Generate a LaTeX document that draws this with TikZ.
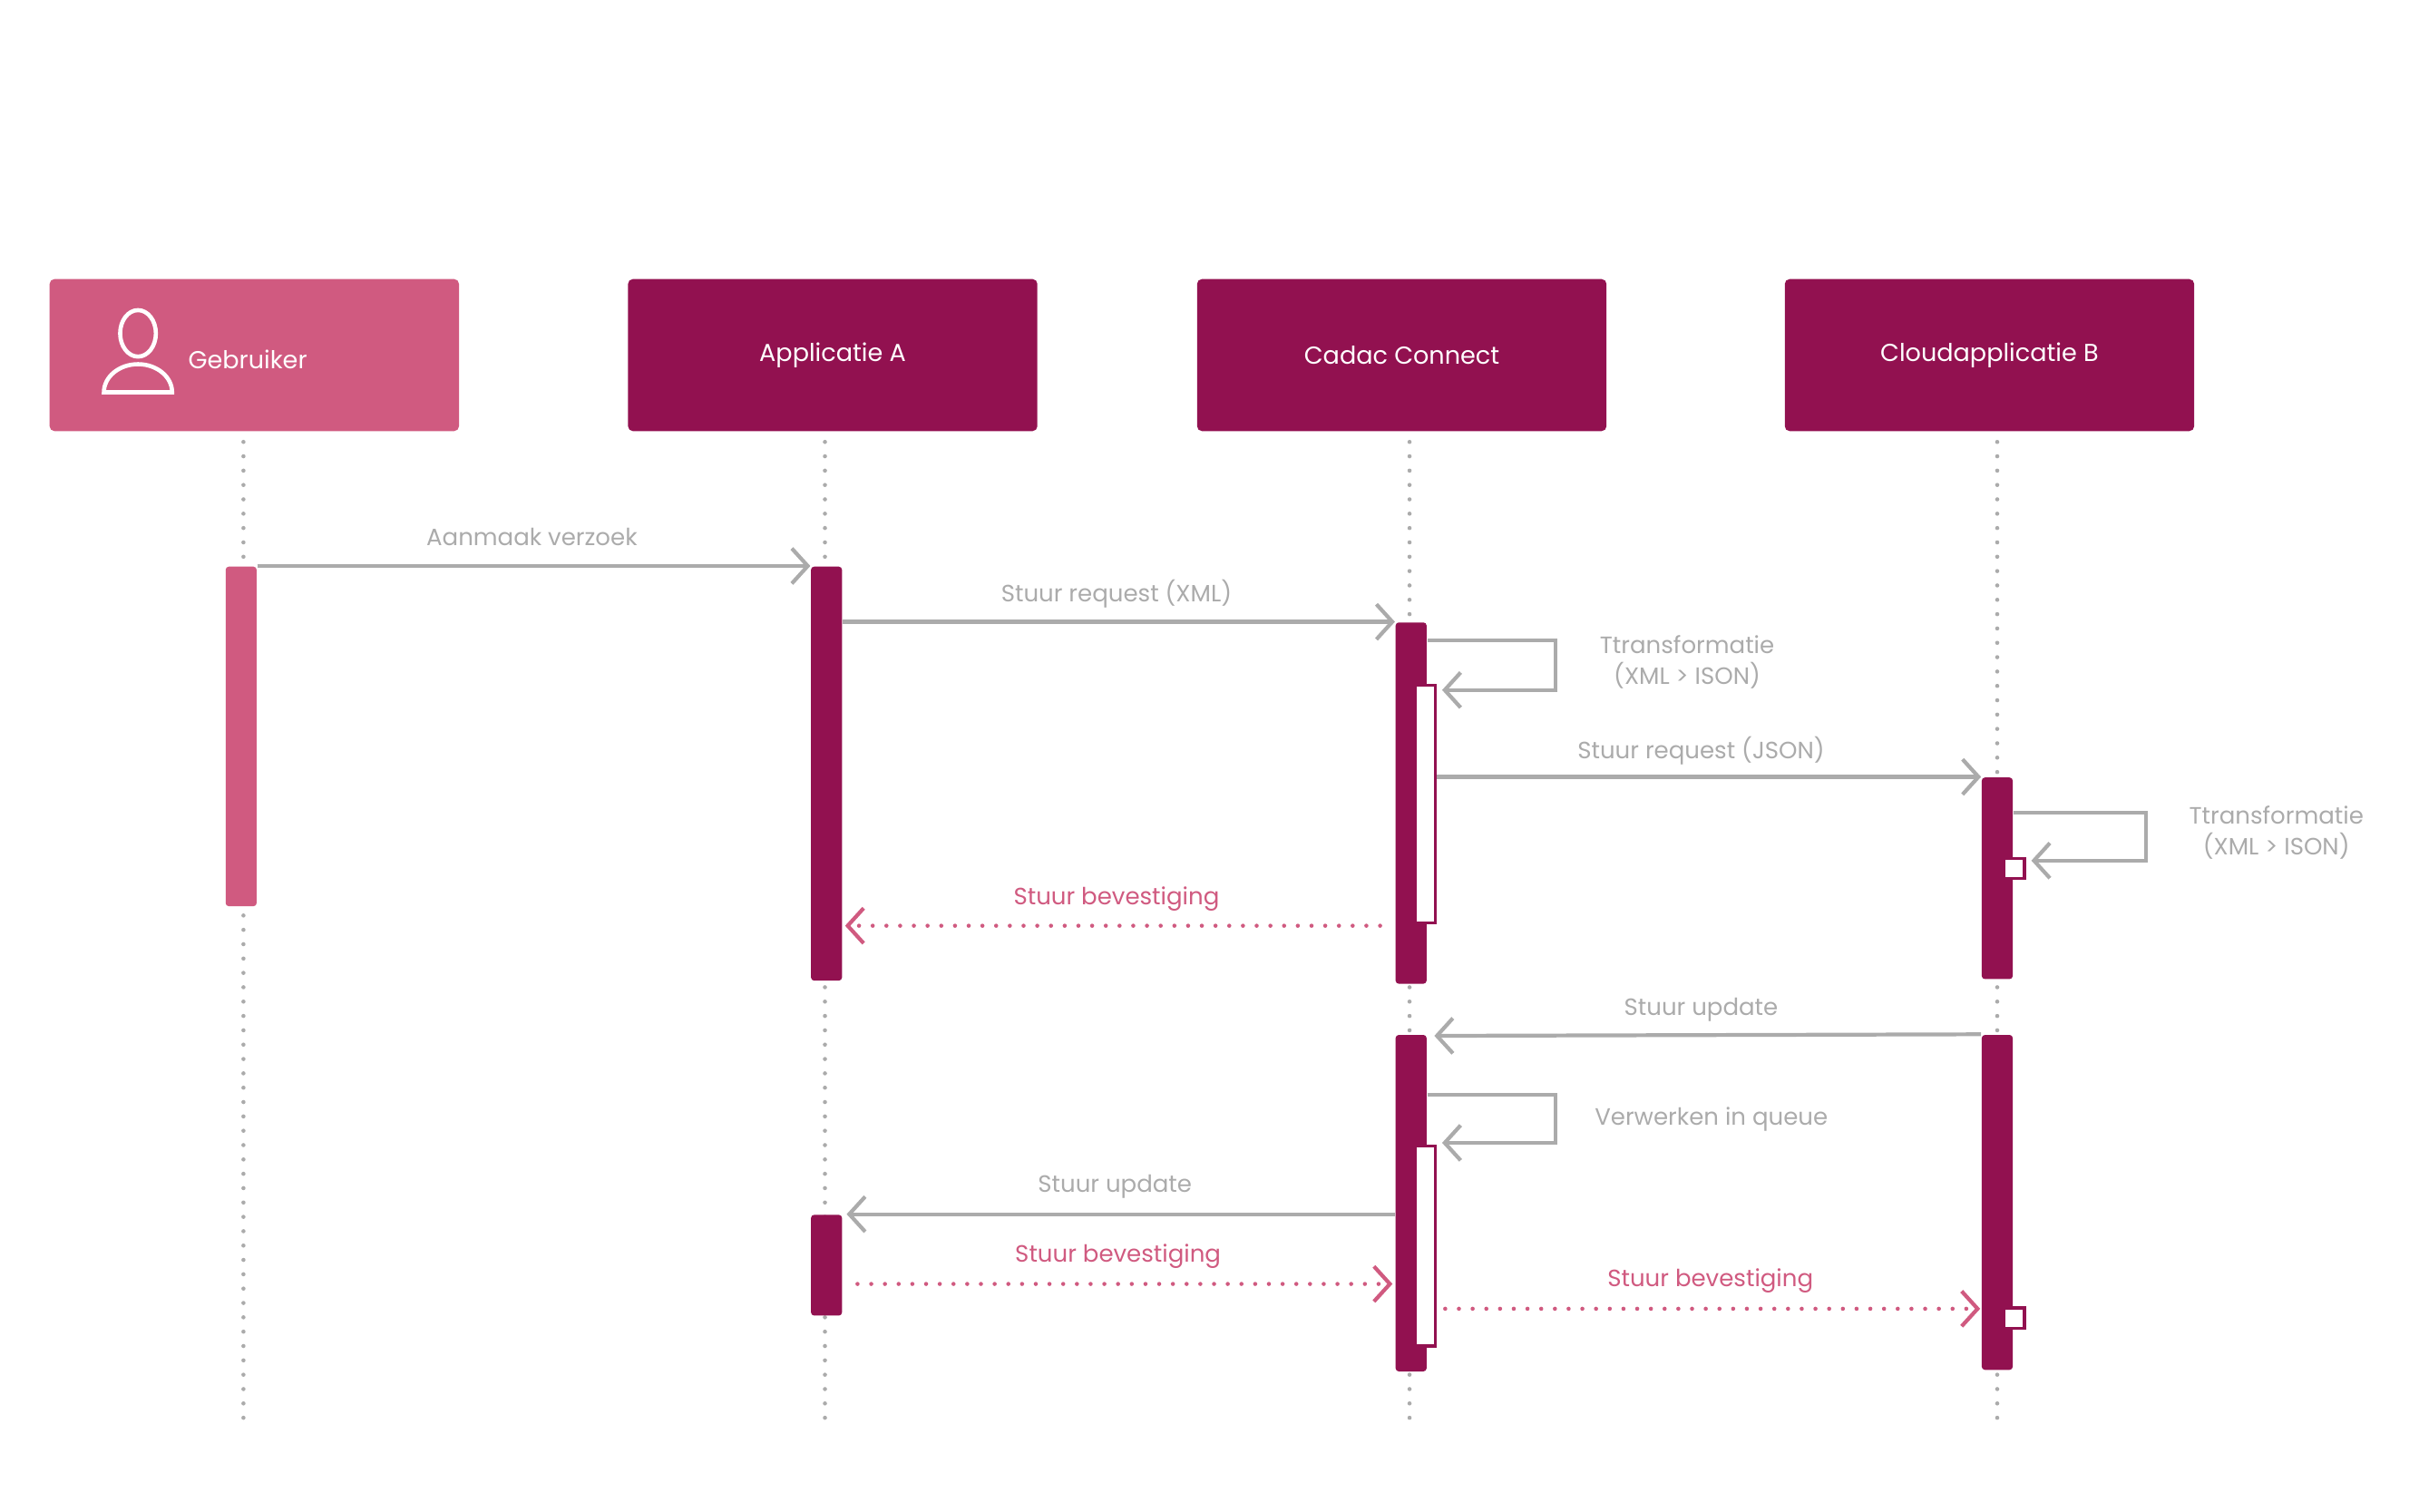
\documentclass[tikz,border=0pt]{standalone}
\usepackage{fontspec}
\setmainfont{Poppins}
\usetikzlibrary{arrows.meta, positioning, calc}
\definecolor{roze}{HTML}{D05A80}
\definecolor{wijn}{HTML}{921150}
\definecolor{grijs}{HTML}{ABABAB}
\tikzset{
  head/.style={fill=wijn, rounded corners=1.5pt, minimum width=264*0.01709cm, minimum height=98*0.01709cm, text=white, font=\fontsize{7.7}{9}\selectfont, inner sep=0pt},
  bar/.style={fill=wijn, rounded corners=1pt, minimum width=20*0.01709cm, inner sep=0pt},
  sub/.style={fill=white, draw=wijn, line width=1pt, minimum width=13*0.01709cm, inner sep=0pt},
  life/.style={grijs, line width=1.3pt, dash pattern=on 0pt off 4.5pt, line cap=round},
  msg/.style={grijs, line width=1.2pt, -{Straight Barb[length=5pt, width=11pt, line width=1.2pt]}},
  ret/.style={roze, line width=1.3pt, dash pattern=on 0pt off 4.3pt, line cap=round, -{Straight Barb[length=5pt, width=11pt, line width=1.2pt, line cap=butt]}},
  lbl/.style={grijs, font=\fontsize{7.4}{9.5}\selectfont, inner sep=1pt},
  rlbl/.style={roze, font=\fontsize{7.4}{9.5}\selectfont, inner sep=1pt}
}
\begin{document}
\begin{tikzpicture}[x=0.01709cm, y=-0.01709cm]
\useasboundingbox (0,0) rectangle (1560,975);

% koppen
\node[head, fill=roze] at (164, 229) (geb){};
\node[head] at (537, 229) (appA){Applicatie A};
\node[head] at (904, 229) (cadac){Cadac Connect};
\node[head] at (1283, 229) (cloud){Cloudapplicatie B};
\node[white, font=\fontsize{7.7}{9}\selectfont, anchor=west, inner sep=0pt] at (121, 232) (gebtxt){Gebruiker};
\draw[white, line width=1.3pt] (89, 215) ellipse [x radius=0.197cm, y radius=0.256cm];
\draw[white, line width=1.3pt] (67, 253) arc[start angle=180, end angle=0, x radius=0.376cm, y radius=0.31cm] -- cycle;

% levenslijnen
\draw[life] (157, 285) -- (157, 920);
\draw[life] (532, 285) -- (532, 920);
\draw[life] (909, 285) -- (909, 920);
\draw[life] (1288, 285) -- (1288, 920);

% activaties
\node[bar, fill=roze, minimum height=219*0.01709cm, anchor=north] at (155.5, 365) (gebBar){};
\node[bar, minimum height=267*0.01709cm, anchor=north] at (533, 365) (appBar){};
\node[bar, minimum height=233*0.01709cm, anchor=north] at (910, 401) (cadBar){};
\node[sub, minimum height=153*0.01709cm, anchor=north] at (919, 441) (cadSub){};
\node[bar, minimum height=130*0.01709cm, anchor=north] at (1288, 501) (cloudBar){};
\node[sub, minimum height=13*0.01709cm] at (1299, 560) (cloudSub){};
\node[bar, minimum height=217*0.01709cm, anchor=north] at (910, 667) (cadBar2){};
\node[sub, minimum height=129*0.01709cm, anchor=north] at (919, 738) (cadSub2){};
\node[bar, minimum height=216*0.01709cm, anchor=north] at (1288, 667) (cloudBar2){};
\node[sub, minimum height=13*0.01709cm] at (1299, 850) (cloudSub2){};
\node[bar, minimum height=65*0.01709cm, anchor=north] at (533, 783) (appBar2){};

% berichten
\draw[msg] (gebBar.north east) -- (appBar.north west);
\node[lbl] at (343, 346) (m1){Aanmaak verzoek};
\draw[msg] (appBar.east |- cadBar.north) -- (cadBar.north west);
\node[lbl] at (720, 383) (m2){Stuur request (XML)};
\draw[msg] (cadBar.east |- 0,413) -| (1003, 445) -- (930, 445);
\node[lbl, align=center] at (1088, 427) (m3){Ttransformatie\\(XML > ISON)};
\draw[msg] (cadSub.east |- cloudBar.north) -- (cloudBar.north west);
\node[lbl] at (1097, 484) (m4){Stuur request (JSON)};
\draw[msg] (cloudBar.east |- 0,524) -| (1384, 555) -- (1310, 555);
\node[lbl, align=center] at (1468, 537) (m5){Ttransformatie\\(XML > ISON)};
\draw[ret] (890, 597) -- (545, 597);
\node[rlbl] at (720, 580) (m6){Stuur bevestiging};
\draw[msg] (cloudBar2.north west) -- (925, 668);
\node[lbl] at (1097, 651) (m7){Stuur update};
\draw[msg] (cadBar2.east |- 0,706) -| (1003, 737) -- (930, 737);
\node[lbl, anchor=west] at (1026, 722) (m8){Verwerken in queue};
\draw[msg] (cadBar2.west |- appBar2.north) -- (546, 783);
\node[lbl] at (719, 765) (m9){Stuur update};
\draw[ret] (553, 828) -- (898, 828);
\node[rlbl] at (721, 810) (m10){Stuur bevestiging};
\draw[ret] (932, 844) -- (1277, 844);
\node[rlbl] at (1103, 826) (m11){Stuur bevestiging};
\end{tikzpicture}
\end{document}
